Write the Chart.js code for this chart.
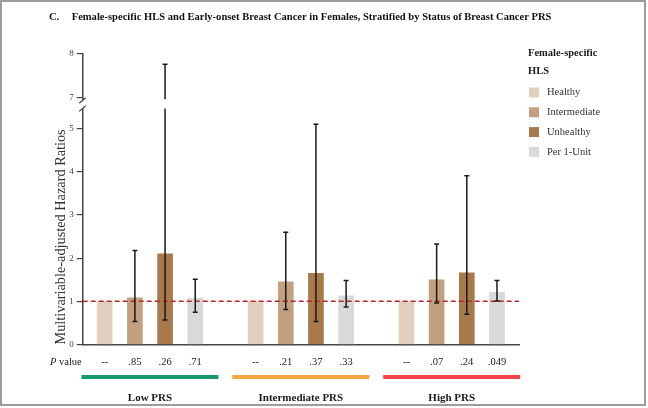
<!DOCTYPE html>
<html><head><meta charset="utf-8">
<script src="https://cdn.jsdelivr.net/npm/chart.js@4"></script>
<style>html,body{margin:0;padding:0;background:#fff}canvas{display:block}</style>
</head><body>
<canvas id="c" width="648" height="408"></canvas>
<script>
// ---- data ----
const groups = ['Low PRS', 'Intermediate PRS', 'High PRS'];
const seriesNames = ['Healthy', 'Intermediate', 'Unhealthy', 'Per 1-Unit'];
const healthy = [1.00, 1.00, 1.00];
const intermediate = [1.08, 1.45, 1.50];
const unhealthy = [2.10, 1.65, 1.66];
const perUnit = [1.07, 1.13, 1.21];
const intermediateLow = [0.53, 0.81, 0.96];
const intermediateHigh = [2.18, 2.60, 2.33];
const unhealthyLow = [0.57, 0.53, 0.70];
const unhealthyHigh = [7.76, 5.10, 3.91];
const perUnitLow = [0.75, 0.87, 1.01];
const perUnitHigh = [1.51, 1.48, 1.48];
const pLow = ['--', '.85', '.26', '.71'];
const pIntermediate = ['--', '.21', '.37', '.33'];
const pHigh = ['--', '.07', '.24', '.049'];
const yTickValues = [0, 1, 2, 3, 4, 5, 7, 8];
const yTickLabels = ['0', '1', '2', '3', '4', '5', '7', '8'];
const titleLetter = 'C.';
const titleText = 'Female-specific HLS and Early-onset Breast Cancer in Females, Stratified by Status of Breast Cancer PRS';
const legendTitle = ['Female-specific', 'HLS'];
const yTitle = 'Multivariable-adjusted Hazard Ratios';

// ---- styling ----
const FONT = "'Liberation Serif', 'Times New Roman', serif";
const seriesColors = ['#e1d0bd', '#c3a07f', '#a8794b', '#d9d9d9'];
const groupColors = ['#17996b', '#f6a443', '#f1434b'];
const AXIS_SHIFT = 1.27;           // broken axis: values >= 7 shifted down
function ax(v) { return v >= 6 ? v - AXIS_SHIFT : v; }
const BREAK_LO = 5.47, BREAK_HI = 5.68;

const values = [healthy, intermediate, unhealthy, perUnit];
const lows = [null, intermediateLow, unhealthyLow, perUnitLow];
const highs = [null, intermediateHigh, unhealthyHigh, perUnitHigh];
const pvals = [pLow, pIntermediate, pHigh];
const SLOT = 5; // 4 bars + 1 gap per group

const datasets = seriesNames.map((name, s) => ({
  label: name,
  data: values[s].map((v, g) => ({ x: g * SLOT + s, y: ax(v) })),
  backgroundColor: seriesColors[s],
  borderWidth: 0,
  barThickness: 15,
  grouped: false,
  ciLow: lows[s],
  ciHigh: highs[s]
}));

const deco = {
  id: 'deco',
  beforeDraw(chart) {
    const ctx = chart.ctx;
    ctx.save(); ctx.fillStyle = '#fff'; ctx.fillRect(0, 0, chart.width, chart.height); ctx.restore();
  },
  afterDatasetsDraw(chart) {
    const { ctx, chartArea: a, scales: { x, y } } = chart;
    ctx.save();
    // reference line at HR = 1
    const y1 = y.getPixelForValue(ax(1));
    ctx.strokeStyle = '#b4282c'; ctx.lineWidth = 1.5; ctx.setLineDash([5, 3]);
    ctx.beginPath(); ctx.moveTo(a.left, y1); ctx.lineTo(a.right, y1); ctx.stroke();
    ctx.setLineDash([]);
    // error bars
    ctx.strokeStyle = '#1a1a1a'; ctx.lineWidth = 1.5;
    chart.data.datasets.forEach(ds => {
      if (!ds.ciLow) return;
      ds.ciLow.forEach((lo, g) => {
        const hi = ds.ciHigh[g];
        const px = x.getPixelForValue(ds.data[g].x);
        const pl = y.getPixelForValue(ax(lo));
        const ph = y.getPixelForValue(ax(hi));
        ctx.beginPath();
        if (hi >= 6) {
          ctx.moveTo(px, pl); ctx.lineTo(px, y.getPixelForValue(BREAK_LO));
          ctx.moveTo(px, y.getPixelForValue(BREAK_HI)); ctx.lineTo(px, ph);
        } else {
          ctx.moveTo(px, pl); ctx.lineTo(px, ph);
        }
        ctx.moveTo(px - 2.5, pl); ctx.lineTo(px + 2.5, pl);
        ctx.moveTo(px - 2.5, ph); ctx.lineTo(px + 2.5, ph);
        ctx.stroke();
      });
    });
    ctx.restore();
  },
  afterDraw(chart) {
    const { ctx, chartArea: a, scales: { x, y } } = chart;
    ctx.save();
    // title
    ctx.fillStyle = '#111'; ctx.textBaseline = 'middle'; ctx.textAlign = 'left';
    ctx.font = 'bold 10.55px ' + FONT;
    ctx.fillText(titleLetter, 49, 17);
    ctx.fillText(titleText, 71.7, 17);

    // axis break
    const yb1 = y.getPixelForValue(BREAK_LO), yb2 = y.getPixelForValue(BREAK_HI);
    ctx.fillStyle = '#fff';
    ctx.fillRect(a.left - 2, yb2 + 1, 4, yb1 - yb2 - 1);
    ctx.strokeStyle = '#444'; ctx.lineWidth = 1.2;
    ctx.beginPath();
    ctx.moveTo(a.left - 3.5, yb1 + 3); ctx.lineTo(a.left + 3, yb1 - 2.6);
    ctx.moveTo(a.left - 3.5, yb2 + 4); ctx.lineTo(a.left + 3, yb2 - 1.6);
    ctx.stroke();

    // P value row
    ctx.fillStyle = '#222';
    const rowY = 362;
    ctx.font = 'italic 10.5px ' + FONT; ctx.textAlign = 'left';
    ctx.fillText('P', 50, rowY);
    const pw = ctx.measureText('P').width;
    ctx.font = '10.5px ' + FONT;
    ctx.fillText(' value', 50 + pw, rowY);
    ctx.textAlign = 'center';
    pvals.forEach((row, g) => row.forEach((t, s) => {
      ctx.fillText(t, x.getPixelForValue(g * SLOT + s), rowY);
    }));

    // group bars and labels
    groups.forEach((name, g) => {
      const l = x.getPixelForValue(g * SLOT - 0.77), r = x.getPixelForValue(g * SLOT + 3.77);
      ctx.fillStyle = groupColors[g];
      ctx.fillRect(l, 375, r - l, 4);
      ctx.fillStyle = '#1a1a1a';
      ctx.font = 'bold 11px ' + FONT;
      ctx.fillText(name, x.getPixelForValue(g * SLOT + 1.5), 398);
    });

    // legend
    ctx.textAlign = 'left';
    ctx.fillStyle = '#1a1a1a';
    ctx.font = 'bold 10.5px ' + FONT;
    legendTitle.forEach((t, i) => ctx.fillText(t, 528, 53 + i * 18));
    ctx.font = '10.5px ' + FONT;
    chart.data.datasets.forEach((ds, i) => {
      const cy = 92.5 + i * 19.8;
      ctx.fillStyle = ds.backgroundColor;
      ctx.fillRect(529, cy - 5, 10, 10);
      ctx.fillStyle = '#333';
      ctx.fillText(ds.label, 547, cy);
    });

    // frame
    ctx.strokeStyle = '#9c9c9c'; ctx.lineWidth = 2;
    ctx.strokeRect(1, 1, 644, 404);
    ctx.restore();
  }
};

new Chart(document.getElementById('c'), {
  type: 'bar',
  data: { datasets },
  options: {
    responsive: false,
    animation: false,
    layout: { padding: { left: 50, right: 129, top: 54, bottom: 63.5 } },
    plugins: {
      legend: { display: false },
      tooltip: { enabled: false },
      title: { display: false }
    },
    scales: {
      x: {
        type: 'linear', min: -0.73, max: 13.73, offset: false,
        ticks: { display: false },
        grid: { drawOnChartArea: false, drawTicks: false, offset: false },
        border: { display: true, color: '#444', width: 1.5 },
        afterFit: s => { s.height = 0; }
      },
      y: {
        min: 0, max: ax(8),
        afterBuildTicks: s => { s.ticks = yTickValues.map(v => ({ value: ax(v) })); },
        afterFit: s => { s.width = 32.7; },
        ticks: {
          autoSkip: false,
          callback: (v, i) => yTickLabels[i],
          font: { family: FONT, size: 9 }, color: '#444', padding: 3
        },
        grid: { drawOnChartArea: false, drawTicks: true, tickLength: 6, color: '#444', lineWidth: 1.2 },
        border: { display: true, color: '#444', width: 1.5 },
        title: {
          display: true, text: yTitle, align: 'start', color: '#333',
          font: { family: FONT, size: 14.3 }, padding: { top: 2.4, bottom: 0 }
        }
      }
    }
  },
  plugins: [deco]
});
</script>
</body></html>
